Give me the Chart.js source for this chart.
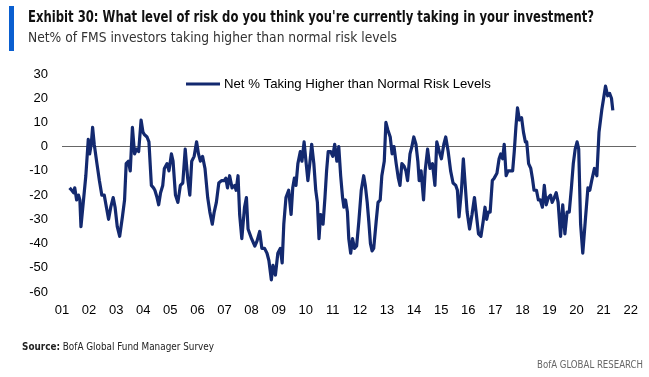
<!DOCTYPE html>
<html>
<head>
<meta charset="utf-8">
<script src="https://cdn.jsdelivr.net/npm/chart.js@4"></script>
<style>
  html, body { margin: 0; padding: 0; background: #fff; }
  #wrap { position: relative; width: 649px; height: 377px; overflow: hidden; }
  canvas { position: absolute; left: 0; top: 0; }
  .txt { position: absolute; white-space: nowrap; transform-origin: 0 50%; }
  #bar { position: absolute; left: 9px; top: 6px; width: 5px; height: 45px; background: #0a5fd0; }
  #title { left: 28px; top: 8px; font: bold 15px "Liberation Sans Narrow", "DejaVu Sans Condensed", Arial, sans-serif; color: #111; }
  #subtitle { left: 28px; top: 29px; font: 14px "Liberation Sans Narrow", "DejaVu Sans Condensed", Arial, sans-serif; color: #333; }
  #source { left: 22px; top: 340px; font: 11px "Liberation Sans Narrow", "DejaVu Sans Condensed", Arial, sans-serif; color: #222; }
  #brand { left: 537px; top: 358px; font: 11px "Liberation Sans Narrow", "DejaVu Sans Condensed", Arial, sans-serif; color: #666; }
</style>
</head>
<body>
<div id="wrap">
  <canvas id="chart" width="649" height="377"></canvas>
  <div id="bar"></div>
  <div class="txt" id="title" data-w="566">Exhibit 30: What level of risk do you think you're currently taking in your investment?</div>
  <div class="txt" id="subtitle" data-w="369">Net% of FMS investors taking higher than normal risk levels</div>
  <div class="txt" id="source" data-w="192"><b>Source:</b> BofA Global Fund Manager Survey</div>
  <div class="txt" id="brand" data-w="106">BofA GLOBAL RESEARCH</div>
</div>
<script>
// Net % of FMS investors taking higher than normal risk (decimal year -> value)
const dates = [
  2001.28, 2001.36, 2001.43, 2001.47, 2001.54, 2001.61, 2001.66, 2001.70, 2001.88, 2001.97,
  2002.02, 2002.08, 2002.13, 2002.19, 2002.29, 2002.38, 2002.47, 2002.56, 2002.64, 2002.72,
  2002.80, 2002.89, 2002.96, 2003.04, 2003.13, 2003.23, 2003.31, 2003.37, 2003.45, 2003.52,
  2003.60, 2003.68, 2003.75, 2003.83, 2003.92, 2003.99, 2004.04, 2004.14, 2004.21, 2004.30,
  2004.38, 2004.43, 2004.51, 2004.57, 2004.64, 2004.72, 2004.78, 2004.88, 2004.95, 2005.04,
  2005.10, 2005.19, 2005.28, 2005.37, 2005.46, 2005.55, 2005.64, 2005.72, 2005.79, 2005.88,
  2005.97, 2006.04, 2006.11, 2006.19, 2006.28, 2006.38, 2006.46, 2006.55, 2006.62, 2006.70,
  2006.79, 2006.89, 2006.99, 2007.05, 2007.11, 2007.19, 2007.28, 2007.38, 2007.43, 2007.50,
  2007.56, 2007.64, 2007.74, 2007.81, 2007.87, 2008.00, 2008.12, 2008.20, 2008.30, 2008.38,
  2008.48, 2008.57, 2008.64, 2008.73, 2008.79, 2008.88, 2008.97, 2009.06, 2009.13, 2009.19,
  2009.27, 2009.37, 2009.46, 2009.52, 2009.58, 2009.64, 2009.71, 2009.80, 2009.86, 2009.94,
  2010.00, 2010.08, 2010.15, 2010.22, 2010.30, 2010.37, 2010.43, 2010.49, 2010.55, 2010.64,
  2010.71, 2010.77, 2010.83, 2010.92, 2011.00, 2011.07, 2011.15, 2011.22, 2011.29, 2011.36,
  2011.41, 2011.47, 2011.54, 2011.59, 2011.66, 2011.73, 2011.80, 2011.88, 2011.96, 2012.05,
  2012.14, 2012.20, 2012.27, 2012.33, 2012.39, 2012.45, 2012.51, 2012.60, 2012.67, 2012.75,
  2012.81, 2012.90, 2012.96, 2013.03, 2013.12, 2013.19, 2013.26, 2013.34, 2013.42, 2013.48,
  2013.55, 2013.63, 2013.70, 2013.76, 2013.85, 2013.92, 2013.99, 2014.07, 2014.14, 2014.19,
  2014.26, 2014.35, 2014.41, 2014.50, 2014.59, 2014.68, 2014.77, 2014.84, 2014.93, 2015.01,
  2015.10, 2015.17, 2015.26, 2015.35, 2015.44, 2015.54, 2015.60, 2015.66, 2015.75, 2015.82,
  2015.89, 2015.96, 2016.05, 2016.14, 2016.23, 2016.30, 2016.38, 2016.47, 2016.55, 2016.62,
  2016.68, 2016.74, 2016.81, 2016.89, 2016.96, 2017.06, 2017.14, 2017.20, 2017.27, 2017.33,
  2017.40, 2017.47, 2017.54, 2017.64, 2017.70, 2017.76, 2017.82, 2017.89, 2017.97, 2018.04,
  2018.11, 2018.16, 2018.23, 2018.31, 2018.37, 2018.43, 2018.52, 2018.59, 2018.66, 2018.74,
  2018.81, 2018.88, 2018.96, 2019.04, 2019.10, 2019.18, 2019.25, 2019.32, 2019.41, 2019.49,
  2019.57, 2019.65, 2019.73, 2019.81, 2019.88, 2019.95, 2020.02, 2020.08, 2020.15, 2020.23,
  2020.32, 2020.42, 2020.49, 2020.56, 2020.66, 2020.75, 2020.83, 2020.93, 2021.00, 2021.07,
  2021.15, 2021.22, 2021.29, 2021.34
];
const values = [
  -17, -18, -19, -17, -22, -20, -22, -33, -12, 3,
  -3, 1, 8, 1, -7, -14, -20, -20, -25, -30,
  -25, -21, -25, -33, -37, -29, -22, -7, -6, -10,
  8, -3, -1, -2, 11, 6, 5, 4, 2, -16,
  -17, -18, -21, -24, -19, -16, -9, -7, -10, -3,
  -6, -20, -23, -16, -15, -1, -13, -20, -6, -4,
  2, -3, -6, -4, -9, -21, -27, -32, -27, -23,
  -15, -14, -14, -13, -17, -12, -17, -16, -18, -12,
  -28, -38, -25, -21, -34, -38, -41, -39, -35, -42,
  -42, -44, -47, -55, -49, -53, -44, -42, -48, -32,
  -21, -18, -28, -17, -13, -16, -7, -2, -6, 2,
  -5, -14, -7, 1, -7, -18, -23, -38, -28, -32,
  -21, -10, -2, -2, -4, 1, -6, 0, -12, -21,
  -25, -22, -27, -38, -44, -38, -42, -41, -31, -18,
  -12, -16, -23, -31, -40, -43, -42, -31, -23, -22,
  -12, -6, 10, 7, 4, -3, 0, -7, -13, -16,
  -7, -8, -10, -14, -3, 0, 4, 1, -6, -14,
  -10, -22, -10, -1, -9, -7, -16, 2, -2, -5,
  1, 4, -2, -10, -15, -16, -18, -29, -18, -5,
  -16, -27, -34, -28, -21, -28, -36, -37, -31, -25,
  -30, -27, -27, -14, -13, -11, -5, -3, -5, 1,
  -12, -10, -10, -10, -2, 8, 16, 11, 12, 6,
  2, 2, -7, -9, -13, -18, -18, -22, -22, -25,
  -16, -24, -21, -20, -23, -21, -19, -23, -37, -24,
  -36, -27, -27, -17, -7, -1, 2, -1, -32, -44,
  -31, -17, -18, -14, -9, -12, 6, 15, 20, 25,
  21, 22, 20, 15
];
const seriesLabel = 'Net % Taking Higher than Normal Risk Levels';
const yearTicks = [2001, 2002, 2003, 2004, 2005, 2006, 2007, 2008, 2009, 2010, 2011,
  2012, 2013, 2014, 2015, 2016, 2017, 2018, 2019, 2020, 2021, 2022];
const yTicks = [30, 20, 10, 0, -10, -20, -30, -40, -50, -60];

const lineColor = '#13296f';
const axisFont = { family: 'Arial, "Liberation Sans", sans-serif', size: 13 };

// legend drawn inside the plot area
const insideLegend = {
  id: 'insideLegend',
  afterDraw(chart) {
    const ctx = chart.ctx;
    const ds = chart.data.datasets[0];
    ctx.save();
    ctx.strokeStyle = ds.borderColor;
    ctx.lineWidth = 3;
    ctx.beginPath();
    ctx.moveTo(186, 84);
    ctx.lineTo(220, 84);
    ctx.stroke();
    ctx.fillStyle = '#000';
    ctx.font = '13.2px Arial, "Liberation Sans", sans-serif';
    ctx.textBaseline = 'middle';
    ctx.fillText(ds.label, 224, 84);
    ctx.restore();
  }
};

new Chart(document.getElementById('chart'), {
  type: 'line',
  data: {
    datasets: [{
      label: seriesLabel,
      data: dates.map((d, i) => ({ x: d, y: values[i] })),
      borderColor: lineColor,
      borderWidth: 3.2,
      borderJoinStyle: 'round',
      pointRadius: 0,
      tension: 0
    }]
  },
  options: {
    responsive: false,
    animation: false,
    layout: { padding: { top: 74, right: 7, bottom: 50, left: 0 } },
    plugins: { legend: { display: false }, tooltip: { enabled: false } },
    scales: {
      x: {
        type: 'linear',
        min: 2001,
        max: 2022.2,
        afterBuildTicks: s => { s.ticks = yearTicks.map(v => ({ value: v })); },
        afterFit: s => { s.height = 35; },
        grid: { display: false, drawTicks: false },
        border: { display: false },
        ticks: {
          padding: 11,
          color: '#000',
          font: axisFont,
          maxRotation: 0,
          autoSkip: false,
          callback: v => String(v % 100).padStart(2, '0')
        }
      },
      y: {
        min: -60,
        max: 30,
        afterBuildTicks: s => { s.ticks = yTicks.map(v => ({ value: v })); },
        afterFit: s => { s.width = 62; },
        grid: {
          drawTicks: false,
          color: c => (c.tick && c.tick.value === 0 ? '#666' : 'rgba(0,0,0,0)'),
          lineWidth: 1
        },
        border: { display: false },
        ticks: { padding: 14, color: '#000', font: axisFont }
      }
    }
  },
  plugins: [insideLegend]
});

// squeeze header/footer text to the measured widths
document.querySelectorAll('.txt').forEach(el => {
  const w = el.getBoundingClientRect().width;
  const target = +el.dataset.w;
  if (w > 0) el.style.transform = 'scaleX(' + (target / w) + ')';
});
</script>
</body>
</html>
